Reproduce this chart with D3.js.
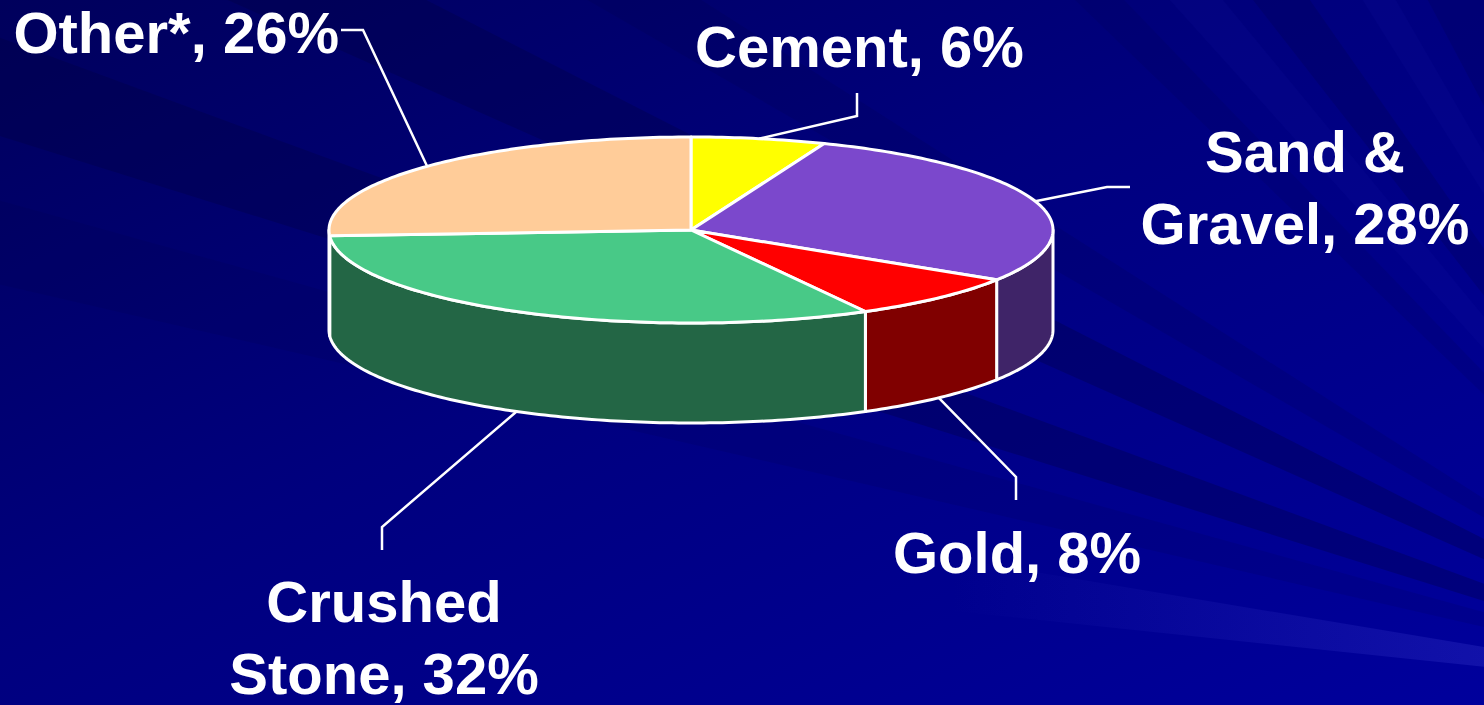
<!DOCTYPE html>
<html>
<head>
<meta charset="utf-8">
<script src="https://cdn.jsdelivr.net/npm/d3@7"></script>
<style>
  html, body { margin: 0; padding: 0; overflow: hidden; background: #000080; }
  svg { display: block; }
  text { font-family: "Liberation Sans", Arial, sans-serif; font-weight: bold; }
</style>
</head>
<body>
<svg id="mining-pie"></svg>
<script>

	/*
		Data
	 */

	var categories = ["Cement", "Sand & Gravel", "Gold", "Crushed Stone", "Other*"];
	var shares     = [6, 28, 8, 32, 26];
	var labelLines = [["Cement, 6%"], ["Sand &", "Gravel, 28%"], ["Gold, 8%"], ["Crushed", "Stone, 32%"], ["Other*, 26%"]];

	var topColors  = ["#ffff00", "#7b48cc", "#ff0000", "#48c987", "#ffcc99"];
	var sideColors = ["#808000", "#3f2468", "#800000", "#236645", "#806650"];

	/*
		Container
	 */

	var container = { width: 1484, height: 705 };

	var pie3d = {
		cx: 691,
		cy: 230,
		rx: 362,
		ry: 93,
		depth: 100
	};

	// where each label sits and how its leader line bends (elbow, end)
	var labelLayout = [
		{ x: 695,  y: 67,  anchor: "start",  elbow: [857, 116],  end: [857, 93] },
		{ x: 1305, y: 172, anchor: "middle", elbow: [1107, 187], end: [1130, 187] },
		{ x: 893,  y: 573, anchor: "start",  elbow: [1016, 477], end: [1016, 500] },
		{ x: 384,  y: 622, anchor: "middle", elbow: [382, 527],  end: [382, 550] },
		{ x: 339,  y: 53,  anchor: "end",    elbow: [363, 30],   end: [341, 30] }
	];
	var lineHeight = 72;

	var svg = d3.select('#mining-pie').attr("width", container.width).attr("height", container.height);

	/*
		Background - blue gradient with soft rays
	 */

	var defs = svg.append('defs');
	var grad = defs.append('linearGradient').attr("id", "bg").attr("x1", 0).attr("y1", 0).attr("x2", 1).attr("y2", 1);
	grad.append('stop').attr("offset", "0%").attr("stop-color", "#00005c");
	grad.append('stop').attr("offset", "45%").attr("stop-color", "#00007e");
	grad.append('stop').attr("offset", "100%").attr("stop-color", "#00009c");

	// light rays fade out toward the left
	var fade = defs.append('linearGradient').attr("id", "rayFade")
		.attr("gradientUnits", "userSpaceOnUse")
		.attr("x1", 1484).attr("y1", 0).attr("x2", 950).attr("y2", 0);
	fade.append('stop').attr("offset", "0%").attr("stop-color", "#5050e0").attr("stop-opacity", 1);
	fade.append('stop').attr("offset", "100%").attr("stop-color", "#5050e0").attr("stop-opacity", 0);

	svg.append('rect').attr("width", container.width).attr("height", container.height).attr("fill", "url(#bg)");

	// elevation angles (deg above leftward horizontal) of rays from a focus off the lower right
	var focus = [1800, 700];
	var rays = [
		[6, 9.5, "url(#rayFade)", 0.22],
		[13, 15.5, "#000040", 0.12],
		[17.4, 20.2, "#000040", 0.3],
		[24, 27, "#000040", 0.3],
		[30, 32.5, "#000040", 0.15],
		[44, 46, "#000040", 0.12],
		[48, 50.5, "#2828c0", 0.08],
		[52, 55, "#000040", 0.2],
		[58, 60, "#2828c0", 0.07],
		[62, 66, "#000040", 0.18]
	];

	svg.append('g').selectAll('path').data(rays).enter().append('path')
		.attr("d", function(r){
			var L = 3000, a = r[0] * Math.PI / 180, b = r[1] * Math.PI / 180;
			return "M" + focus[0] + "," + focus[1] +
				"L" + (focus[0] - L * Math.cos(a)) + "," + (focus[1] - L * Math.sin(a)) +
				"L" + (focus[0] - L * Math.cos(b)) + "," + (focus[1] - L * Math.sin(b)) + "Z";
		})
		.attr("fill", function(r){ return r[2]; })
		.attr("opacity", function(r){ return r[3]; });

	/*
		3D pie
	 */

	var slices = d3.pie().sort(null).startAngle(0).endAngle(2 * Math.PI)(shares);

	function ex(a){ return pie3d.cx + pie3d.rx * Math.sin(a); }
	function ey(a){ return pie3d.cy - pie3d.ry * Math.cos(a); }

	function arcPoints(a0, a1, dy){
		var n = Math.max(2, Math.ceil(Math.abs(a1 - a0) / (Math.PI / 180))), pts = [];
		for (var i = 0; i <= n; i++) {
			var a = a0 + (a1 - a0) * i / n;
			pts.push([ex(a), ey(a) + dy]);
		}
		return pts;
	}

	var line = d3.line();

	// side walls - only the front half (90deg .. 270deg) shows
	var g = svg.append('g');

	g.selectAll('path.side').data(slices).enter().append('path')
		.attr("class", "side")
		.attr("d", function(d){
			var a0 = Math.max(d.startAngle, Math.PI / 2), a1 = Math.min(d.endAngle, 3 * Math.PI / 2);
			if (a0 >= a1) return null;
			var pts = arcPoints(a0, a1, 0).concat(arcPoints(a1, a0, pie3d.depth));
			return line(pts) + "Z";
		})
		.attr("fill", function(d, i){ return sideColors[i]; })
		.attr("stroke", "#ffffff")
		.attr("stroke-width", 3)
		.attr("stroke-linejoin", "round");

	g.selectAll('path.top').data(slices).enter().append('path')
		.attr("class", "top")
		.attr("d", function(d){
			var pts = [[pie3d.cx, pie3d.cy]].concat(arcPoints(d.startAngle, d.endAngle, 0));
			return line(pts) + "Z";
		})
		.attr("fill", function(d, i){ return topColors[i]; })
		.attr("stroke", "#ffffff")
		.attr("stroke-width", 3)
		.attr("stroke-linejoin", "round");

	/*
		Leader lines & labels
	 */

	function anchorPoint(d){
		var m = (d.startAngle + d.endAngle) / 2;
		var dy = Math.cos(m) < 0 ? pie3d.depth : 0;
		return [ex(m), ey(m) + dy];
	}

	svg.append('g').selectAll('path').data(slices).enter().append('path')
		.attr("d", function(d, i){
			var lay = labelLayout[i];
			return line([anchorPoint(d), lay.elbow, lay.end]);
		})
		.attr("fill", "none")
		.attr("stroke", "#ffffff")
		.attr("stroke-width", 2.5);

	var labels = svg.append('g').selectAll('text').data(categories).enter().append('text')
		.attr("x", function(d, i){ return labelLayout[i].x; })
		.attr("y", function(d, i){ return labelLayout[i].y; })
		.attr("text-anchor", function(d, i){ return labelLayout[i].anchor; })
		.attr("fill", "#ffffff")
		.attr("font-size", 58);

	labels.each(function(d, i){
		var t = d3.select(this);
		labelLines[i].forEach(function(s, k){
			t.append('tspan')
				.attr("x", labelLayout[i].x)
				.attr("dy", k === 0 ? 0 : lineHeight)
				.text(s);
		});
	});

</script>
</body>
</html>
